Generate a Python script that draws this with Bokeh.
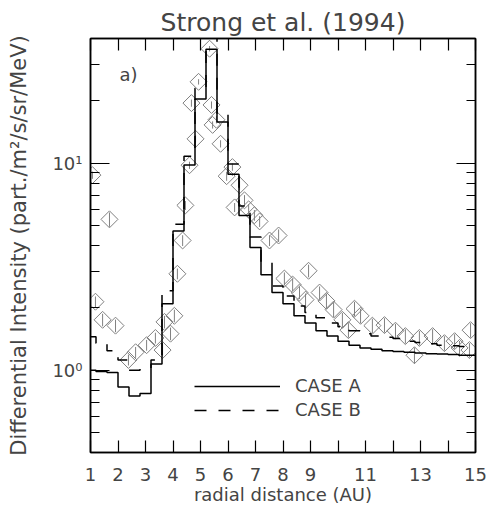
import math
from bokeh.plotting import figure
from bokeh.models import (Range1d, FixedTicker, LinearAxis, LogAxis, Label,
                          Legend, LegendItem, ColumnDataSource)
from bokeh.embed import file_html
from bokeh.resources import INLINE

FONT = "DejaVu Sans"

# ---- observations (diamonds) ----
obs_x = [1.07, 1.18, 1.44, 1.69, 1.91, 2.38, 2.64, 3.04, 3.36, 3.62, 3.69, 3.91,
         4.05, 4.16, 4.35, 4.45, 4.60, 4.67, 4.82, 4.93, 5.33, 5.40, 5.44, 5.58,
         5.73, 5.95, 6.16, 6.24, 6.42, 6.60, 6.75, 6.96, 7.15, 7.51, 7.84, 8.05,
         8.35, 8.60, 8.82, 8.93, 9.33, 9.58, 9.84, 10.16, 10.38, 10.60, 10.82,
         11.25, 11.69, 12.09, 12.45, 12.78, 12.96, 13.44, 13.87, 14.24, 14.42,
         14.78, 14.82]
obs_y = [8.75, 2.14, 1.75, 5.35, 1.64, 1.12, 1.22, 1.32, 1.43, 1.25, 1.71, 1.50,
         1.83, 2.92, 4.23, 6.25, 9.77, 19.5, 13.1, 24.7, 35.7, 19.1, 15.3, 16.2,
         12.4, 8.65, 9.57, 6.11, 7.82, 6.61, 5.98, 5.60, 5.23, 4.23, 4.47, 2.77,
         2.59, 2.37, 2.19, 3.02, 2.37, 2.16, 1.96, 1.75, 1.56, 1.98, 1.83,
         1.64, 1.65, 1.55, 1.46, 1.18, 1.43, 1.46, 1.35, 1.38, 1.28,
         1.25, 1.56]
obs_err = [0.04, 0.06, 0.07, 0.08, 0.07, 0.06, 0.06, 0.06, 0.06, 0.07, 0.07, 0.07,
           0.07, 0.06, 0.06, 0.05, 0.04, 0.04, 0.04, 0.03, 0.03, 0.04, 0.04, 0.04,
           0.04, 0.05, 0.04, 0.05, 0.05, 0.06, 0.06, 0.06, 0.06, 0.06, 0.07, 0.07,
           0.07, 0.07, 0.07, 0.07, 0.07, 0.08, 0.08, 0.08, 0.08, 0.08, 0.08,
           0.08, 0.08, 0.08, 0.08, 0.09, 0.08, 0.08, 0.08, 0.08, 0.08,
           0.08, 0.08]

# ---- model histograms ----
bin_centers = [1.0, 1.4, 1.8, 2.2, 2.6, 3.0, 3.4, 3.8, 4.2, 4.6, 5.0, 5.4,
               5.8, 6.2, 6.6, 7.0, 7.4, 7.8, 8.2, 8.6, 9.0, 9.4, 9.8, 10.2,
               10.6, 11.0, 11.4, 11.8, 12.2, 12.6, 13.0, 13.4, 13.8, 14.2, 14.6, 15.0]
case_a = [1.00, 0.985, 0.975, 0.83, 0.75, 0.77, 1.07, 2.09, 4.7, 9.8, 20.4, 35.5,
          15.8, 8.84, 5.59, 3.91, 2.89, 2.37, 2.09, 1.83, 1.69, 1.55, 1.46, 1.38,
          1.32, 1.28, 1.26, 1.24, 1.23, 1.22, 1.21, 1.20, 1.195, 1.19, 1.18, 1.18]
case_b = [1.45, 1.35, 1.24, 1.12, 1.00, 1.02, 1.12, 2.42, 5.06, 10.8, 23.0, 45.0,
          17.3, 9.9, 6.2, 4.4, 3.31, 2.55, 2.28, 2.04, 1.90, 1.79, 1.69, 1.62,
          1.55, 1.50, 1.46, 1.44, 1.42, 1.38, 1.36, 1.34, 1.32, 1.31, 1.30, 1.29]

x_ticks = list(range(1, 16))
x_tick_labels = {10: "", 12: "", 14: ""}
y_major = [1, 10]
y_major_labels = ["10\u2070", "10\u00b9"]
y_minor = [0.4, 0.5, 0.6, 0.7, 0.8, 0.9, 2, 3, 4, 5, 6, 7, 8, 9, 20, 30, 40]

title = "Strong et al. (1994)"
x_label = "radial distance (AU)"
y_label = "Differential Intensity (part./m\u00b2/s/sr/MeV)"

p = figure(frame_width=385, frame_height=414,
           x_range=Range1d(1, 15), y_range=Range1d(0.4, 40),
           y_axis_type="log", output_backend="svg", toolbar_location=None,
           min_border_left=90, min_border_right=13, min_border_top=38,
           min_border_bottom=57)
p.grid.visible = False
p.outline_line_color = "black"
p.outline_line_width = 1.5
p.background_fill_color = "white"
p.border_fill_color = "white"

p.title.text = title
p.title.text_font = FONT
p.title.text_font_size = "25px"
p.title.text_font_style = "normal"
p.title.align = "center"
p.title.standoff = 4

blank_y = {t: "" for t in y_major}
blank_x = {t: "" for t in x_ticks}

# bottom axis
xa = p.xaxis[0]
xa.ticker = FixedTicker(ticks=x_ticks)
xa.major_label_overrides = x_tick_labels
xa.major_tick_in = 12
xa.major_tick_out = 0
xa.minor_tick_line_color = None
xa.major_label_text_font = FONT
xa.major_label_text_font_size = "18px"
xa.major_label_standoff = 15
xa.axis_label = x_label
xa.axis_label_text_font = FONT
xa.axis_label_text_font_size = "18px"
xa.axis_label_text_font_style = "normal"
xa.axis_label_standoff = 0
xa.axis_line_width = 1.5
xa.major_tick_line_width = 1.2

# left axis
ya = p.yaxis[0]
ya.ticker = FixedTicker(ticks=y_major, minor_ticks=y_minor)
ya.major_tick_in = 19
ya.major_tick_out = 0
ya.minor_tick_in = 9
ya.minor_tick_out = 0
ya.major_label_overrides = dict(zip(y_major, y_major_labels))
ya.major_label_text_font = FONT
ya.major_label_text_font_size = "18px"
ya.major_label_standoff = 8
ya.axis_label = y_label
ya.axis_label_text_font = FONT
ya.axis_label_text_font_size = "21px"
ya.axis_label_text_font_style = "normal"
ya.axis_label_standoff = 18
ya.axis_line_width = 1.5
ya.major_tick_line_width = 1.2
ya.minor_tick_line_width = 1.2

# right / top axes (ticks only)
ra_ax = LogAxis(ticker=FixedTicker(ticks=y_major, minor_ticks=y_minor),
                major_tick_in=19, major_tick_out=0, minor_tick_in=9, minor_tick_out=0,
                major_label_overrides=blank_y, major_label_text_font_size="6px",
                major_label_standoff=0,
                axis_line_width=1.5, major_tick_line_width=1.2, minor_tick_line_width=1.2)
p.add_layout(ra_ax, "right")
ta_ax = LinearAxis(ticker=FixedTicker(ticks=x_ticks),
                   major_tick_in=12, major_tick_out=0, minor_tick_line_color=None,
                   major_label_overrides=blank_x, major_label_text_font_size="6px",
                   major_label_standoff=0,
                   axis_line_width=1.5, major_tick_line_width=1.2)
p.add_layout(ta_ax, "above")

# observations
lo = [y * (1 - e) for y, e in zip(obs_y, obs_err)]
hi = [y * (1 + e) for y, e in zip(obs_y, obs_err)]
src = ColumnDataSource(dict(x=obs_x, y=obs_y, lo=lo, hi=hi))
p.segment(x0="x", y0="lo", x1="x", y1="hi", source=src, line_color="#808080", line_width=1)
p.scatter(x="x", y="y", source=src, marker="square", angle=math.pi / 4, size=12,
          fill_color=None, line_color="#808080", line_width=1)

# model curves
r_a = p.step(x=bin_centers, y=case_a, mode="center", line_color="black", line_width=1.5)
r_b = p.step(x=bin_centers, y=case_b, mode="center", line_color="black", line_width=1.5,
             line_dash="12 12")

legend = Legend(items=[LegendItem(label="CASE A", renderers=[r_a]),
                       LegendItem(label="CASE B", renderers=[r_b])],
                location=(104, 32), glyph_width=86, glyph_height=20, label_height=20,
                label_standoff=15, spacing=3, padding=0, margin=0,
                border_line_alpha=0, background_fill_alpha=0,
                label_text_font=FONT, label_text_font_size="18px")
p.add_layout(legend)

# panel tag
p.add_layout(Label(x=2.05, y=26.7, text="a)", text_font=FONT, text_font_size="18px",
                   text_baseline="middle", text_align="left"))

open("out.html", "w").write(file_html(p, INLINE))
